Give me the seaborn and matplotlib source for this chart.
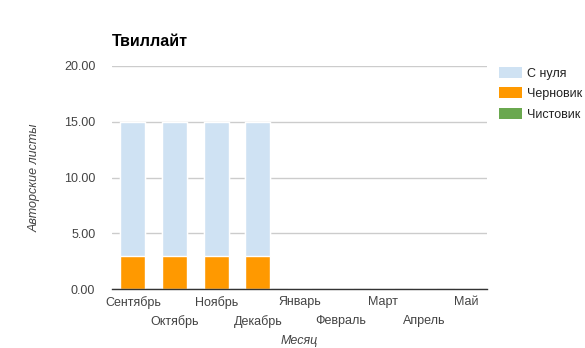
import matplotlib
matplotlib.use("Agg")
import matplotlib.pyplot as plt
import seaborn as sns
import pandas as pd
import numpy as np
from matplotlib.patches import Patch

months = ["Сентябрь", "Октябрь", "Ноябрь", "Декабрь", "Январь", "Февраль", "Март", "Апрель", "Май"]
s_nulya = [12, 12, 12, 12, 0, 0, 0, 0, 0]
chernovik = [3, 3, 3, 3, 0, 0, 0, 0, 0]
chistovik = [0, 0, 0, 0, 0, 0, 0, 0, 0]
series_names = ["С нуля", "Черновик", "Чистовик"]
colors = ["#cfe2f3", "#ff9900", "#6aa84f"]
yticks = [0, 5, 10, 15, 20]

sns.set_theme(style="white")
plt.rcParams['font.family'] = ['Arial', 'Liberation Sans', 'DejaVu Sans']

fs = 9
fig = plt.figure(figsize=(5.85, 3.48), dpi=100)
ax = fig.add_axes([112/585, 1-289/348, 375/585, 223/348])

df = pd.DataFrame({"month": months,
                   "chern": chernovik,
                   "chern_nul": np.array(chernovik) + np.array(s_nulya),
                   "total": np.array(chernovik) + np.array(s_nulya) + np.array(chistovik)})

sns.barplot(data=df, x="month", y="total", color=colors[2], width=0.6, ax=ax,
            edgecolor="white", linewidth=1, saturation=1)
sns.barplot(data=df, x="month", y="chern_nul", color=colors[0], width=0.6, ax=ax,
            edgecolor="white", linewidth=1, saturation=1)
sns.barplot(data=df, x="month", y="chern", color=colors[1], width=0.6, ax=ax,
            edgecolor="white", linewidth=1, saturation=1)

ax.set_ylim(0, 20)
ax.set_xlim(-0.5, len(months) - 0.5)
ax.set_yticks(yticks)
ax.set_yticklabels([f"{v:.2f}" for v in yticks])
ax.yaxis.grid(True, color="#cccccc", linewidth=1)
ax.set_axisbelow(True)
for s in ["top", "right", "left"]:
    ax.spines[s].set_visible(False)
ax.spines["bottom"].set_color("#333333")
ax.spines["bottom"].set_linewidth(1)

even = list(range(0, len(months), 2))
odd = list(range(1, len(months), 2))
ax.set_xticks(even)
ax.set_xticklabels([months[i] for i in even])
ax.set_xticks(odd, minor=True)
ax.set_xticklabels([months[i] for i in odd], minor=True)
ax.tick_params(axis="x", which="major", length=0, pad=5, labelsize=fs, labelcolor="#444444")
ax.tick_params(axis="x", which="minor", length=0, pad=19, labelsize=fs, labelcolor="#444444")
ax.tick_params(axis="y", labelsize=fs, labelcolor="#444444", length=0, pad=12)

ax.set_xlabel("")
ax.set_ylabel("")
fig.text(299.5/585, 1-341/348, "Месяц", fontsize=fs, style="italic", color="#444444",
         ha="center", va="center")
fig.text(35/585, 1-178/348, "Авторские листы", fontsize=fs, style="italic", color="#444444",
         ha="center", va="center", rotation=90)

fig.text(112/585, 1-42/348, "Твиллайт", fontsize=11.5, fontweight="bold", color="#000000", va="center", ha="left")

handles = [Patch(facecolor=c, edgecolor="none") for c in colors]
fig.legend(handles, series_names, loc="upper left", bbox_to_anchor=(494/585, 1-62/348),
           frameon=False, fontsize=fs, labelcolor="#222222", handlelength=1.8, handleheight=0.95,
           handletextpad=0.45, labelspacing=0.62, borderaxespad=0)

fig.savefig("out.png", dpi=100)
